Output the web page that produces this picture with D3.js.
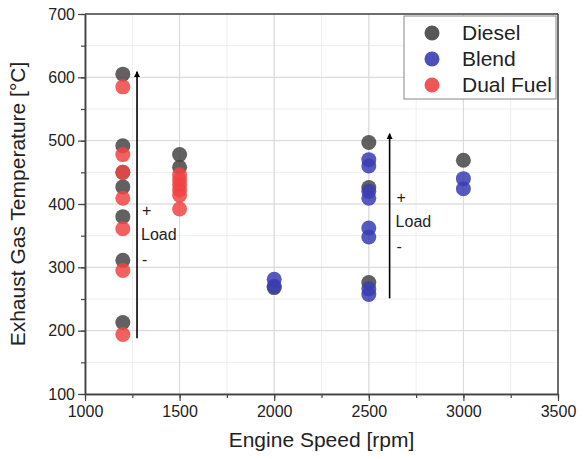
<!DOCTYPE html>
<html>
<head>
<meta charset="utf-8">
<script src="https://cdn.jsdelivr.net/npm/d3@7"></script>
<style>
  html, body { margin: 0; padding: 0; background: #fff; }
  svg { display: block; font-family: "Liberation Sans", Arial, sans-serif; }
</style>
</head>
<body>
<svg id="chart" width="584" height="459"></svg>
<script>
// ── Data ───────────────────────────────────────────────────
const seriesNames = ['Diesel', 'Blend', 'Dual Fuel'];
const seriesColors = ['#454545', '#3a3db2', '#f04444'];

const dieselSpeed = [1200, 1200, 1200, 1200, 1200, 1200, 1200, 1500, 1500, 2000, 2500, 2500, 2500, 3000];
const dieselTemp  = [605, 492, 450, 427, 380, 311, 213, 478, 458, 268, 497, 426, 276, 469];

const blendSpeed = [2000, 2000, 2500, 2500, 2500, 2500, 2500, 2500, 2500, 2500, 3000, 3000];
const blendTemp  = [281, 270, 470, 460, 420, 409, 362, 348, 266, 257, 440, 424];

const dualSpeed = [1200, 1200, 1200, 1200, 1200, 1200, 1200, 1500, 1500, 1500, 1500, 1500, 1500];
const dualTemp  = [585, 478, 450, 409, 361, 295, 194, 446, 438, 430, 422, 414, 392];

const xTicks = [1000, 1500, 2000, 2500, 3000, 3500];
const yTicks = [100, 200, 300, 400, 500, 600, 700];

// load arrows: speed, temp from, temp to
const arrowSpeed = [1275, 2610];
const arrowFrom  = [188, 251];
const arrowTo    = [609, 511];
// "+", "Load", "-" label temps for each arrow
const arrowLabels = ['+', 'Load', '-'];
const arrowLabelTemps = [[381, 343, 304], [402, 364, 324]];

// ── Layout ─────────────────────────────────────────────────
const W = 584, H = 459;
const margin = { left: 85, right: 26, top: 14, bottom: 65 };
const svg = d3.select('#chart');

const x = d3.scaleLinear().domain([1000, 3500]).range([margin.left, W - margin.right]);
const y = d3.scaleLinear().domain([100, 700]).range([H - margin.bottom, margin.top]);

const minorX = d3.range(1000, 3501, 250);
const minorY = d3.range(100, 701, 50);

// Grid (minor then major)
const grid = svg.append('g');
grid.selectAll('.mgx').data(minorX).enter().append('line')
  .attr('x1', d => x(d)).attr('x2', d => x(d))
  .attr('y1', y(100)).attr('y2', y(700))
  .attr('stroke', '#eeeeee').attr('stroke-width', 1);
grid.selectAll('.mgy').data(minorY).enter().append('line')
  .attr('y1', d => y(d)).attr('y2', d => y(d))
  .attr('x1', x(1000)).attr('x2', x(3500))
  .attr('stroke', '#eeeeee').attr('stroke-width', 1);
grid.selectAll('.gx').data(xTicks).enter().append('line')
  .attr('x1', d => x(d)).attr('x2', d => x(d))
  .attr('y1', y(100)).attr('y2', y(700))
  .attr('stroke', '#d8d8d8').attr('stroke-width', 1);
grid.selectAll('.gy').data(yTicks).enter().append('line')
  .attr('y1', d => y(d)).attr('y2', d => y(d))
  .attr('x1', x(1000)).attr('x2', x(3500))
  .attr('stroke', '#d8d8d8').attr('stroke-width', 1);

// ── Axes ───────────────────────────────────────────────────
const axisColor = '#444';
function styleAxis(g) {
  g.selectAll('path').attr('stroke', axisColor).attr('stroke-width', 1.5);
  g.selectAll('line').attr('stroke', axisColor).attr('stroke-width', 1.2);
  g.selectAll('text').attr('fill', '#222').attr('font-size', '16px')
    .attr('font-family', '"Liberation Sans", Arial, sans-serif');
}

svg.append('g')
  .attr('transform', `translate(0,${y(100)})`)
  .call(d3.axisBottom(x).tickValues(minorX).tickSize(4).tickFormat('').tickSizeOuter(0))
  .call(styleAxis);
svg.append('g')
  .attr('transform', `translate(0,${y(100)})`)
  .call(d3.axisBottom(x).tickValues(xTicks).tickSize(7).tickPadding(5).tickFormat(d3.format('d')).tickSizeOuter(0))
  .call(styleAxis);

svg.append('g')
  .attr('transform', `translate(${x(1000)},0)`)
  .call(d3.axisLeft(y).tickValues(minorY).tickSize(4).tickFormat('').tickSizeOuter(0))
  .call(styleAxis);
svg.append('g')
  .attr('transform', `translate(${x(1000)},0)`)
  .call(d3.axisLeft(y).tickValues(yTicks).tickSize(7).tickPadding(3).tickFormat(d3.format('d')).tickSizeOuter(0))
  .call(styleAxis);

// top and right frame
svg.append('line').attr('x1', x(1000)).attr('x2', x(3500)).attr('y1', y(700)).attr('y2', y(700))
  .attr('stroke', axisColor).attr('stroke-width', 1.5);
svg.append('line').attr('x1', x(3500)).attr('x2', x(3500)).attr('y1', y(700)).attr('y2', y(100))
  .attr('stroke', axisColor).attr('stroke-width', 1.5);

// Axis titles
svg.append('text')
  .attr('x', (x(1000) + x(3500)) / 2).attr('y', 447)
  .attr('text-anchor', 'middle').attr('font-size', '21px').attr('fill', '#222')
  .text('Engine Speed [rpm]');
svg.append('text')
  .attr('transform', `translate(25,${(y(100) + y(700)) / 2}) rotate(-90)`)
  .attr('text-anchor', 'middle').attr('font-size', '21px').attr('fill', '#222')
  .text('Exhaust Gas Temperature [°C]');

// ── Points ─────────────────────────────────────────────────
const R = 7.5;
const series = [
  { speed: dieselSpeed, temp: dieselTemp, color: seriesColors[0] },
  { speed: blendSpeed, temp: blendTemp, color: seriesColors[1] },
  { speed: dualSpeed, temp: dualTemp, color: seriesColors[2] }
];
series.forEach(s => {
  svg.append('g').selectAll('circle')
    .data(s.speed.map((v, i) => [v, s.temp[i]]))
    .enter().append('circle')
    .attr('cx', d => x(d[0])).attr('cy', d => y(d[1])).attr('r', R)
    .attr('fill', s.color).attr('fill-opacity', 0.85);
});

// ── Load arrows ────────────────────────────────────────────
svg.append('defs').append('marker')
  .attr('id', 'arrowhead').attr('viewBox', '0 0 10 10')
  .attr('refX', 9).attr('refY', 5)
  .attr('markerWidth', 6).attr('markerHeight', 8)
  .attr('markerUnits', 'userSpaceOnUse')
  .attr('orient', 'auto')
  .append('path').attr('d', 'M0,0 L10,5 L0,10 Z').attr('fill', '#000');

arrowSpeed.forEach((sp, i) => {
  const ax = x(sp);
  svg.append('line')
    .attr('x1', ax).attr('x2', ax)
    .attr('y1', y(arrowFrom[i])).attr('y2', y(arrowTo[i]))
    .attr('stroke', '#000').attr('stroke-width', 1.6)
    .attr('marker-end', 'url(#arrowhead)');
  const lbl = svg.append('g').attr('font-size', '16px').attr('fill', '#222');
  arrowLabels.forEach((t, j) => {
    lbl.append('text')
      .attr('x', ax + (j === 1 ? 4 : 5) + (i === 1 ? 2 : 0))
      .attr('y', y(arrowLabelTemps[i][j]))
      .text(t);
  });
});

// ── Legend ─────────────────────────────────────────────────
const legend = svg.append('g');
legend.append('rect')
  .attr('x', 404).attr('y', y(700) + 2)
  .attr('width', x(3500) - 404 - 2).attr('height', 83)
  .attr('fill', '#fff').attr('stroke', '#888').attr('stroke-width', 1);
seriesNames.forEach((name, i) => {
  const ly = 33 + i * 26;
  legend.append('circle').attr('cx', 432).attr('cy', ly).attr('r', R)
    .attr('fill', seriesColors[i]).attr('fill-opacity', 0.9);
  legend.append('text').attr('x', 462).attr('y', ly + 7)
    .attr('font-size', '21px').attr('fill', '#222').text(name);
});
</script>
</body>
</html>
